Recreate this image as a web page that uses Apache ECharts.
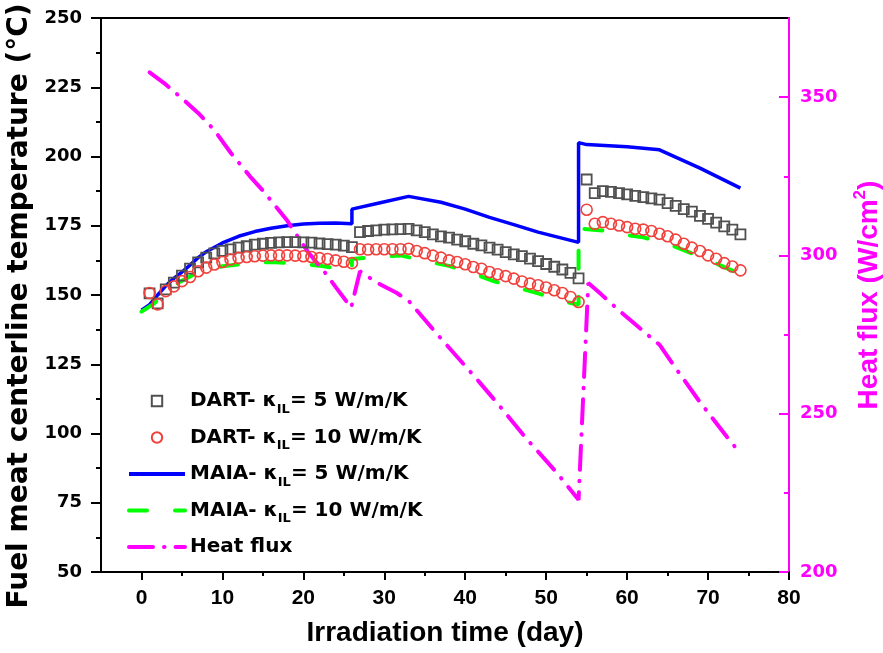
<!DOCTYPE html>
<html>
<head>
<meta charset="utf-8">
<script src="https://cdn.jsdelivr.net/npm/echarts@6/dist/echarts.min.js"></script>
<style>
  html, body { margin: 0; padding: 0; background: #fff; }
  #chart { width: 883px; height: 653px; }
</style>
</head>
<body>
<div id="chart"></div>
<script>
// DART results: one value per irradiation day
const dartDays = [1,2,3,4,5,6,7,8,9,10,11,12,13,14,15,16,17,18,19,20,21,22,23,24,25,26,
  27,28,29,30,31,32,33,34,35,36,37,38,39,40,41,42,43,44,45,46,47,48,49,50,51,52,53,54,
  55,56,57,58,59,60,61,62,63,64,65,66,67,68,69,70,71,72,73,74];
const dart5 = [150.6,147.0,152.0,154.5,157.0,159.5,161.8,163.5,165.0,165.9,166.5,167.1,167.6,168.2,168.5,168.8,169.0,169.1,169.1,169.0,168.9,168.6,168.4,168.2,167.8,167.3,
  172.7,173.1,173.3,173.6,173.7,173.8,173.9,173.3,172.7,171.9,171.2,170.7,170.0,169.4,168.5,167.9,167.1,166.4,165.5,164.7,164.0,163.1,162.2,161.2,160.2,159.2,158.0,156.0,
  191.7,186.8,187.5,187.2,186.8,186.3,185.8,185.3,184.9,184.4,183.2,182.2,181.0,180.1,178.6,177.5,176.1,174.8,173.6,171.9];
const dart10 = [150.7,146.6,151.4,153.1,155.0,156.5,158.6,159.9,161.0,161.9,162.8,163.4,163.7,164.0,164.2,164.3,164.3,164.3,164.2,164.0,163.7,163.3,163.0,162.5,162.0,161.5,
  166.5,166.4,166.5,166.5,166.5,166.5,166.7,165.9,165.1,164.2,163.5,162.5,161.9,161.1,160.1,159.5,158.3,157.5,156.8,155.9,154.9,154.1,153.5,152.7,151.7,150.7,149.3,147.5,
  180.8,175.7,176.3,175.7,175.1,174.5,173.9,173.6,173.1,172.1,171.2,170.0,168.5,167.1,165.9,164.3,163.1,161.5,160.3,158.9];

// MAIA results
const maia5Days = [0,1,2,3,4,5,6,7,8,10,12,14,16,18,20,22,24,26,26,29.5,33,37,40,43,46,49,54,54,55,60,64,69,74];
const maia5 = [144.5,146.5,150.0,153.3,156.0,158.3,160.8,163.5,165.6,168.8,171.2,172.9,174.1,175.0,175.6,175.9,176.0,175.7,181.0,183.3,185.6,183.5,181.0,178.0,175.4,172.7,169.0,205.0,204.3,203.5,202.4,195.8,188.6];
const maia10Days = [0,1.5,3,4.6,7,10,13,16,19,22,24.5,26,26,29,32,35,38,40.5,43.5,46,49,52,54,54,57,59,62,65,68,70.5,74];
const maia10 = [144.0,146.8,150.8,154.5,158.2,160.4,161.4,161.9,161.4,160.6,159.4,158.8,163.0,163.8,164.3,162.3,160.5,158.3,155.0,153.0,150.6,147.8,146.5,174.0,173.3,172.0,170.8,168.5,165.0,162.0,157.5];

// Heat flux (right axis)
const fluxDays = [1,3,5,7,9,11,13.4,15,18,20.6,22.7,24,25.9,27,29,31.5,33,36.4,41.4,44.3,47.5,51.2,54,55.2,56.8,59.1,62.5,64,66,68.9,72.6,74];
const flux = [357.8,354.0,349.6,345.0,339.6,332.5,325.0,320.5,311.0,301.0,294.5,290.0,283.5,295.0,291.5,288.2,285.7,275.5,261.0,252.3,242.3,231.7,222.8,291.3,287.7,282.4,275.0,271.8,264.4,254.0,241.8,237.5];

// Tick positions
const xMajorTicks = [0,10,20,30,40,50,60,70,80];
const xMinorTicks = [5,15,25,35,45,55,65,75];
const fluxMajorTicks = [200,250,300,350];
const fluxMinorTicks = [225,275,325];

const pairs = (xs, ys) => xs.map((x, i) => [x, ys[i]]);

const legendText = {
  dart5: 'DART- κ{sub|IL}= 5 W/m/K',
  dart10: 'DART- κ{sub|IL}= 10 W/m/K',
  maia5: 'MAIA- κ{sub|IL}= 5 W/m/K',
  maia10: 'MAIA- κ{sub|IL}= 10 W/m/K',
  flux: 'Heat flux'
};

const MAGENTA = '#ff00ff';
const tickStyle = { color: '#000', width: 2 };
const fluxTickStyle = { color: MAGENTA, width: 2 };
// legend entries for plain lines: no marker in the icon
const noMarker = { color: 'transparent', borderWidth: 0 };

const chart = echarts.init(document.getElementById('chart'), null, { renderer: 'canvas' });

chart.setOption({
  animation: false,
  backgroundColor: '#fff',
  grid: {
    left: 101, right: 94, top: 18, bottom: 81,
    outerBoundsMode: 'none',
    show: true, borderColor: '#000', borderWidth: 2, backgroundColor: 'transparent'
  },
  legend: {
    orient: 'vertical', left: 127, top: 386, padding: 0,
    itemGap: 6.5, itemWidth: 56, itemHeight: 13,
    selectedMode: false,
    data: [
      { name: 'dart5' },
      { name: 'dart10' },
      { name: 'maia5', itemStyle: noMarker, lineStyle: { width: 4 } },
      { name: 'maia10', itemStyle: noMarker, lineStyle: { width: 4 } },
      { name: 'flux', itemStyle: noMarker, lineStyle: { width: 4 } }
    ],
    formatter: name => legendText[name],
    textStyle: {
      fontFamily: 'DejaVu Sans', fontWeight: 'bold', fontSize: 20, color: '#000', lineHeight: 30,
      rich: {
        sub: { fontFamily: 'DejaVu Sans', fontWeight: 'bold', fontSize: 13, lineHeight: 13, verticalAlign: 'bottom', color: '#000' }
      }
    }
  },
  xAxis: [
    {
      type: 'value', min: -5, max: 80, interval: 5,
      axisLine: { show: true, onZero: false, lineStyle: { color: '#000', width: 2 } },
      axisTick: { show: true, customValues: xMajorTicks, length: 8, lineStyle: tickStyle },
      axisLabel: { customValues: xMajorTicks, fontFamily: 'Liberation Sans', fontWeight: 'bold', fontSize: 21, color: '#000', margin: 16 },
      splitLine: { show: false },
      name: 'Irradiation time (day)', nameLocation: 'middle', nameGap: 47,
      nameTextStyle: { fontFamily: 'Liberation Sans', fontWeight: 'bold', fontSize: 28, color: '#000' }
    },
    {
      type: 'value', min: -5, max: 80, interval: 5, position: 'bottom',
      axisLine: { show: false, onZero: false },
      axisTick: { show: true, customValues: xMinorTicks, length: 4, lineStyle: tickStyle },
      axisLabel: { show: false },
      splitLine: { show: false }
    }
  ],
  yAxis: [
    {
      type: 'value', position: 'left', min: 50, max: 250, interval: 25,
      axisLine: { show: true, onZero: false, lineStyle: { color: '#000', width: 2 } },
      axisTick: { show: true, length: 10, lineStyle: tickStyle },
      minorTick: { show: true, splitNumber: 2, length: 5, lineStyle: tickStyle },
      axisLabel: { fontFamily: 'DejaVu Sans', fontWeight: 'bold', fontSize: 18, color: '#000', margin: 19 },
      splitLine: { show: false },
      name: 'Fuel meat centerline temperature (°C)', nameLocation: 'middle', nameGap: 58,
      nameTextStyle: { fontFamily: 'DejaVu Sans', fontWeight: 'bold', fontSize: 28, color: '#000', padding: [0, 22, 0, 0] }
    },
    {
      type: 'value', position: 'right', min: 200, max: 375, interval: 25,
      axisLine: { show: true, onZero: false, lineStyle: { color: MAGENTA, width: 2 } },
      axisTick: { show: true, inside: true, customValues: fluxMajorTicks, length: 10, lineStyle: fluxTickStyle },
      axisLabel: { customValues: fluxMajorTicks, fontFamily: 'DejaVu Sans', fontWeight: 'bold', fontSize: 18, color: MAGENTA, margin: 11 },
      splitLine: { show: false },
      name: 'Heat flux (W/cm{sup|2})', nameLocation: 'middle', nameGap: 63,
      nameTextStyle: {
        fontFamily: 'Liberation Sans', fontWeight: 'bold', fontSize: 28, color: MAGENTA, lineHeight: 34,
        rich: { sup: { fontFamily: 'Liberation Sans', fontWeight: 'bold', fontSize: 17, lineHeight: 17, verticalAlign: 'top', color: MAGENTA } }
      }
    },
    {
      type: 'value', position: 'right', min: 200, max: 375, interval: 25,
      axisLine: { show: false, onZero: false },
      axisTick: { show: true, inside: true, customValues: fluxMinorTicks, length: 5, lineStyle: fluxTickStyle },
      axisLabel: { show: false },
      splitLine: { show: false }
    }
  ],
  series: [
    {
      // markers only: the connecting line is fully transparent
      name: 'dart5', type: 'line', symbol: 'rect', symbolSize: 10, showSymbol: true,
      lineStyle: { opacity: 0, width: 0 },
      itemStyle: { color: 'transparent', borderColor: '#505050', borderWidth: 1.8 },
      data: pairs(dartDays, dart5)
    },
    {
      name: 'dart10', type: 'line', symbol: 'circle', symbolSize: 11, showSymbol: true,
      lineStyle: { opacity: 0, width: 0 },
      itemStyle: { color: 'transparent', borderColor: '#f0413c', borderWidth: 1.6 },
      data: pairs(dartDays, dart10)
    },
    {
      name: 'maia5', type: 'line', symbol: 'none', color: '#0000ff',
      lineStyle: { color: '#0000ff', width: 3.5 },
      data: pairs(maia5Days, maia5)
    },
    {
      name: 'maia10', type: 'line', symbol: 'none', color: '#00ff00',
      lineStyle: { color: '#00ff00', width: 4, type: [18, 28], cap: 'round' },
      data: pairs(maia10Days, maia10)
    },
    {
      name: 'flux', type: 'line', symbol: 'none', yAxisIndex: 1, color: MAGENTA,
      lineStyle: { color: MAGENTA, width: 4, type: [24, 11, 0.5, 11], cap: 'round' },
      data: pairs(fluxDays, flux)
    }
  ]
});
</script>
</body>
</html>
